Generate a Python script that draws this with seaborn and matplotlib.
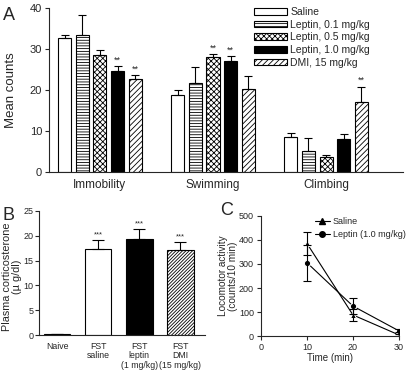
import numpy as np
import pandas as pd
import matplotlib
matplotlib.use("Agg")
import matplotlib.pyplot as plt
import seaborn as sns
from matplotlib.patches import Patch
from matplotlib.lines import Line2D

# ---------------- data ----------------
measures = ["Immobility", "Swimming", "Climbing"]
groups = ["Saline", "Leptin, 0.1 mg/kg", "Leptin, 0.5 mg/kg", "Leptin, 1.0 mg/kg", "DMI, 15 mg/kg"]
a_means = {
    "Saline":            [32.8, 18.8, 8.6],
    "Leptin, 0.1 mg/kg": [33.4, 21.7, 5.0],
    "Leptin, 0.5 mg/kg": [28.5, 28.0, 3.6],
    "Leptin, 1.0 mg/kg": [24.7, 27.2, 8.0],
    "DMI, 15 mg/kg":     [22.8, 20.2, 17.0],
}
a_errs = {
    "Saline":            [0.7, 1.2, 1.0],
    "Leptin, 0.1 mg/kg": [5.0, 3.8, 3.4],
    "Leptin, 0.5 mg/kg": [1.3, 0.7, 0.5],
    "Leptin, 1.0 mg/kg": [1.1, 1.1, 1.3],
    "DMI, 15 mg/kg":     [0.8, 3.1, 3.8],
}
a_stars = {
    "Saline":            ["", "", ""],
    "Leptin, 0.1 mg/kg": ["", "", ""],
    "Leptin, 0.5 mg/kg": ["", "**", ""],
    "Leptin, 1.0 mg/kg": ["**", "**", ""],
    "DMI, 15 mg/kg":     ["**", "", "**"],
}

b_labels = ["Naive", "FST\nsaline", "FST\nleptin\n(1 mg/kg)", "FST\nDMI\n(15 mg/kg)"]
b_means = [0.2, 17.4, 19.4, 17.1]
b_errs = [0.1, 1.8, 2.0, 1.6]
b_stars = ["", "***", "***", "***"]

c_time = [10, 20, 30]
c_saline = [385, 88, 5]
c_saline_err = [47, 23, 5]
c_leptin = [305, 125, 22]
c_leptin_err = [75, 33, 6]

# ---------------- style ----------------
sns.set_style("ticks")
plt.rcParams["font.family"] = ["Liberation Sans", "DejaVu Sans"]
plt.rcParams["hatch.linewidth"] = 0.6
plt.rcParams["axes.linewidth"] = 0.8
plt.rcParams["xtick.major.width"] = 0.8
plt.rcParams["ytick.major.width"] = 0.8
plt.rcParams["xtick.major.size"] = 3
plt.rcParams["ytick.major.size"] = 3

fig = plt.figure(figsize=(4.10, 3.76), dpi=100)

# ---------------- panel A ----------------
axA = fig.add_axes([0.1195, 0.5426, 0.8635, 0.436])
rows = []
for g in groups:
    for m, v in zip(measures, a_means[g]):
        rows.append({"measure": m, "group": g, "value": v})
dfA = pd.DataFrame(rows)
fills = {"Saline": "white", "Leptin, 0.1 mg/kg": "white", "Leptin, 0.5 mg/kg": "white",
         "Leptin, 1.0 mg/kg": "black", "DMI, 15 mg/kg": "white"}
hatches = {"Saline": "", "Leptin, 0.1 mg/kg": "------", "Leptin, 0.5 mg/kg": "xxxxxx",
           "Leptin, 1.0 mg/kg": "", "DMI, 15 mg/kg": "//////"}
sns.barplot(data=dfA, x="measure", y="value", hue="group", order=measures, hue_order=groups,
            palette=fills, saturation=1, edgecolor="black", linewidth=0.8,
            width=0.78, gap=0.26, errorbar=None, legend=False, ax=axA)
for g, cont in zip(groups, axA.containers):
    for i, p in enumerate(cont.patches):
        p.set_hatch(hatches[g])
        xc = p.get_x() + p.get_width() / 2
        h = p.get_height()
        e = a_errs[g][i]
        axA.errorbar([xc], [h], yerr=[[0], [e]], fmt="none", ecolor="black",
                     elinewidth=0.8, capsize=3, capthick=0.8)
        s = a_stars[g][i]
        if s:
            axA.text(xc, h + e + 0.4, s, ha="center", va="bottom", fontsize=6.5)
axA.set_xlim(-0.45, 2.68)
axA.set_ylim(0, 40)
axA.set_yticks([0, 10, 20, 30, 40])
axA.tick_params(axis="x", length=0, labelsize=8.5, pad=5)
axA.tick_params(axis="y", labelsize=8, pad=2)
axA.set_xlabel("")
axA.set_ylabel("Mean counts", fontsize=9.5)
axA.yaxis.set_label_coords(-0.09, 0.5)
sns.despine(ax=axA)
handles = [Patch(facecolor=fills[g], edgecolor="black", hatch=hatches[g], linewidth=0.8) for g in groups]
axA.legend(handles, groups, loc="upper left", bbox_to_anchor=(0.578, 1.005), frameon=False,
           fontsize=7.5, handlelength=3.2, handleheight=0.6, handletextpad=0.3,
           labelspacing=0.25, borderaxespad=0, borderpad=0)
fig.text(0.007, 0.947, "A", fontsize=13, va="baseline", ha="left")

# ---------------- panel B ----------------
axB = fig.add_axes([0.095, 0.109, 0.405, 0.330])
dfB = pd.DataFrame({"label": b_labels, "value": b_means})
b_fill = ["white", "white", "black", "white"]
b_hatch = ["", "", "", "//////////"]
sns.barplot(data=dfB, x="label", y="value", hue="label", order=b_labels, hue_order=b_labels,
            palette=dict(zip(b_labels, b_fill)), saturation=1, edgecolor="black", linewidth=0.8,
            width=0.65, errorbar=None, legend=False, ax=axB)
patchesB = sorted([p for c in axB.containers for p in c.patches], key=lambda p: p.get_x())
for i, p in enumerate(patchesB):
    p.set_hatch(b_hatch[i])
    xc = p.get_x() + p.get_width() / 2
    h = p.get_height()
    e = b_errs[i]
    axB.errorbar([xc], [h], yerr=[[0], [e]], fmt="none", ecolor="black",
                 elinewidth=0.8, capsize=4, capthick=0.8)
    if b_stars[i]:
        axB.text(xc, h + e + 0.3, b_stars[i], ha="center", va="bottom", fontsize=5.5)
axB.set_xlim(-0.44, 3.6)
axB.set_ylim(0, 25)
axB.set_yticks([0, 5, 10, 15, 20, 25])
axB.tick_params(axis="x", length=0, labelsize=6.3, pad=5)
axB.tick_params(axis="y", labelsize=6.5, pad=1)
for t in axB.get_xticklabels():
    t.set_linespacing(1.05)
axB.set_xlabel("")
axB.set_ylabel("Plasma corticosterone\n(µ g/dl)", fontsize=7.8, linespacing=1.0)
axB.yaxis.set_label_coords(-0.10, 0.47)
sns.despine(ax=axB)
fig.text(0.005, 0.415, "B", fontsize=13, va="baseline", ha="left")

# ---------------- panel C ----------------
axC = fig.add_axes([0.6366, 0.106, 0.3364, 0.320])
dfC = pd.DataFrame({
    "time": c_time * 2,
    "value": c_saline + c_leptin,
    "group": ["Saline"] * 3 + ["Leptin (1.0 mg/kg)"] * 3,
})
sns.lineplot(data=dfC, x="time", y="value", hue="group", style="group",
             hue_order=["Saline", "Leptin (1.0 mg/kg)"], style_order=["Saline", "Leptin (1.0 mg/kg)"],
             palette={"Saline": "black", "Leptin (1.0 mg/kg)": "black"},
             markers={"Saline": "^", "Leptin (1.0 mg/kg)": "o"},
             dashes=False, markersize=4.5, linewidth=0.8, errorbar=None, legend=False, ax=axC)
axC.errorbar(c_time, c_saline, yerr=c_saline_err, fmt="none", ecolor="black",
             elinewidth=0.8, capsize=3, capthick=0.8)
axC.errorbar(c_time, c_leptin, yerr=c_leptin_err, fmt="none", ecolor="black",
             elinewidth=0.8, capsize=3, capthick=0.8)
axC.set_xlim(0, 30)
axC.set_ylim(0, 500)
axC.set_xticks([0, 10, 20, 30])
axC.set_yticks([0, 100, 200, 300, 400, 500])
axC.tick_params(labelsize=6.5, pad=2)
axC.set_xlabel("Time (min)", fontsize=7, labelpad=1)
axC.set_ylabel("Locomotor activity\n(counts/10 min)", fontsize=7.2, linespacing=0.95)
axC.yaxis.set_label_coords(-0.17, 0.5)
sns.despine(ax=axC)
hC = [Line2D([], [], color="black", marker="^", markersize=4, linewidth=0.8),
      Line2D([], [], color="black", marker="o", markersize=4, linewidth=0.8)]
axC.legend(hC, ["Saline", "Leptin (1.0 mg/kg)"], loc="upper left", bbox_to_anchor=(0.39, 0.99),
           frameon=False, fontsize=6.5, handlelength=1.7, handletextpad=0.3,
           labelspacing=0.45, borderaxespad=0, borderpad=0)
fig.text(0.537, 0.428, "C", fontsize=13, va="baseline", ha="left")

fig.savefig("out.png", dpi=100)
